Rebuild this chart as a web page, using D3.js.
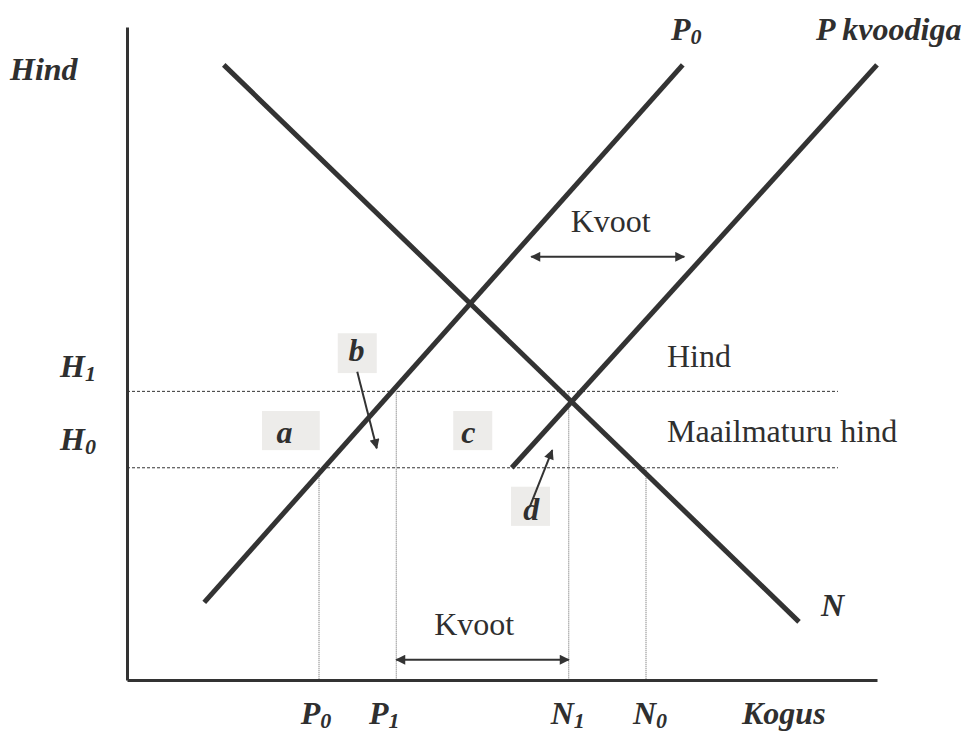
<!DOCTYPE html>
<html>
<head>
<meta charset="utf-8">
<script src="https://cdn.jsdelivr.net/npm/d3@7"></script>
<style>
  html, body { margin: 0; padding: 0; background: #fff; }
  svg { display: block; }
  text { font-family: "Liberation Serif", "Times New Roman", serif; fill: #2f2f2f; }
  .lbl { font-weight: bold; font-style: italic; }
</style>
</head>
<body>
<script>
const w = 965;
const h = 738;
const ink = "#333";
const fs = 32;
const subFs = 22;

// curves in chart units (x: quantity 0-100, y: price 0-100)
const curveNames = ["N", "P0", "Pkvoodiga"];
const curveX = [[12.9, 89.6], [10.3, 74.1], [51.3, 100]];
const curveY = [[94.2, 8.9], [11.9, 94.2], [32.5, 94.2]];

// price levels
const priceNames = ["H1", "H0"];
const priceValues = [44.2, 32.5];
const priceLineEnd = 94.8;

// quantities on the x axis
const qtyNames = ["P0", "P1", "N1", "N0"];
const qtyValues = [25.6, 35.9, 58.9, 69.2];
const qtyTops = [32.5, 44.2, 44.2, 32.5];
const qtyLabelShift = [-3, -12, -1, 4];

// quota arrows
const quotaFrom = [35.9, 53.9];
const quotaTo = [58.9, 74.3];
const quotaLevel = [3.1, 64.8];
const quotaTextX = [46.3, 64.5];

// shaded letter boxes a, b, c, d
const boxLetters = ["a", "b", "c", "d"];
const boxX0 = [18.0, 28.1, 43.5, 51.2];
const boxX1 = [25.7, 33.3, 48.7, 56.4];
const boxY0 = [35.2, 47.0, 35.2, 23.6];
const boxY1 = [41.2, 53.1, 41.2, 29.6];
const letterX = [21.0, 30.6, 45.5, 53.9];
const letterY = [36.3, 48.8, 36.3, 24.5];

// pointer arrows from b and d
const pointerX0 = [30.7, 53.7];
const pointerY0 = [47.2, 26.5];
const pointerX1 = [33.3, 56.7];
const pointerY1 = [35.5, 35.2];

const svg = d3.select("body").append("svg").attr("width", w).attr("height", h);

const x = d3.scaleLinear().domain([0, 100]).range([127, 877]);
const y = d3.scaleLinear().domain([0, 100]).range([680, 27]);

const defs = svg.append("defs");
defs.append("marker")
  .attr("id", "head")
  .attr("viewBox", "0 0 10 10")
  .attr("refX", 9)
  .attr("refY", 5)
  .attr("markerWidth", 12)
  .attr("markerHeight", 10)
  .attr("markerUnits", "userSpaceOnUse")
  .attr("orient", "auto-start-reverse")
  .append("path")
  .attr("d", "M0,0 L10,5 L0,10 z")
  .attr("fill", ink);

// boxes
svg.append("g").selectAll("rect")
  .data(boxLetters)
  .join("rect")
  .attr("x", (d, i) => x(boxX0[i]))
  .attr("y", (d, i) => y(boxY1[i]))
  .attr("width", (d, i) => x(boxX1[i]) - x(boxX0[i]))
  .attr("height", (d, i) => y(boxY0[i]) - y(boxY1[i]))
  .attr("fill", "#edecea");

// horizontal price lines
svg.append("g").selectAll("line")
  .data(priceValues)
  .join("line")
  .attr("x1", x(0))
  .attr("x2", x(priceLineEnd))
  .attr("y1", (d) => y(d))
  .attr("y2", (d) => y(d))
  .attr("stroke", ink)
  .attr("stroke-width", 1)
  .attr("stroke-dasharray", "3,2");

// vertical quantity lines
svg.append("g").selectAll("line")
  .data(qtyValues)
  .join("line")
  .attr("x1", (d) => x(d))
  .attr("x2", (d) => x(d))
  .attr("y1", (d, i) => y(qtyTops[i]))
  .attr("y2", y(0))
  .attr("stroke", "#666")
  .attr("stroke-width", 1)
  .attr("stroke-dasharray", "1,1");

// axes
svg.append("g")
  .attr("transform", `translate(0, ${y(0)})`)
  .call(d3.axisBottom(x).ticks(0).tickSize(0).tickSizeOuter(0))
  .call((g) => g.select(".domain").attr("stroke", ink).attr("stroke-width", 3));
svg.append("g")
  .attr("transform", `translate(${x(0)}, 0)`)
  .call(d3.axisLeft(y).ticks(0).tickSize(0).tickSizeOuter(0))
  .call((g) => g.select(".domain").attr("stroke", ink).attr("stroke-width", 3));

// curves
svg.append("g").selectAll("line")
  .data(curveNames)
  .join("line")
  .attr("x1", (d, i) => x(curveX[i][0]))
  .attr("y1", (d, i) => y(curveY[i][0]))
  .attr("x2", (d, i) => x(curveX[i][1]))
  .attr("y2", (d, i) => y(curveY[i][1]))
  .attr("stroke", ink)
  .attr("stroke-width", 5);

// quota arrows
svg.append("g").selectAll("line")
  .data(quotaLevel)
  .join("line")
  .attr("x1", (d, i) => x(quotaFrom[i]))
  .attr("x2", (d, i) => x(quotaTo[i]))
  .attr("y1", (d) => y(d))
  .attr("y2", (d) => y(d))
  .attr("stroke", ink)
  .attr("stroke-width", 2)
  .attr("marker-start", "url(#head)")
  .attr("marker-end", "url(#head)");

// pointer arrows
svg.append("g").selectAll("line")
  .data(pointerX0)
  .join("line")
  .attr("x1", (d) => x(d))
  .attr("y1", (d, i) => y(pointerY0[i]))
  .attr("x2", (d, i) => x(pointerX1[i]))
  .attr("y2", (d, i) => y(pointerY1[i]))
  .attr("stroke", ink)
  .attr("stroke-width", 2)
  .attr("marker-end", "url(#head)");

// letters in boxes
svg.append("g").selectAll("text")
  .data(boxLetters)
  .join("text")
  .attr("class", "lbl")
  .attr("x", (d, i) => x(letterX[i]))
  .attr("y", (d, i) => y(letterY[i]))
  .attr("text-anchor", "middle")
  .attr("font-size", fs)
  .text((d) => d);

// label with subscript
function subLabel(g, px, py, main, sub, anchor) {
  const t = g.append("text")
    .attr("class", "lbl")
    .attr("x", px)
    .attr("y", py)
    .attr("font-size", fs)
    .attr("text-anchor", anchor || "start");
  t.append("tspan").text(main);
  if (sub) t.append("tspan").attr("font-size", subFs).attr("dy", 4).text(sub);
  return t;
}

const labels = svg.append("g");
labels.append("text").attr("class", "lbl").attr("x", 10).attr("y", 80)
  .attr("font-size", fs).text("Hind");
subLabel(labels, 96, y(priceValues[0]) - 14, "H", "1", "end");
subLabel(labels, 96, y(priceValues[1]) - 18, "H", "0", "end");

qtyNames.forEach((n, i) => {
  subLabel(labels, x(qtyValues[i]) + qtyLabelShift[i], 724, n[0], n[1], "middle");
});
labels.append("text").attr("class", "lbl").attr("x", 742).attr("y", 724)
  .attr("font-size", fs).text("Kogus");

subLabel(labels, 671, 40, "P", "0");
labels.append("text").attr("class", "lbl").attr("x", 816).attr("y", 40)
  .attr("font-size", fs).text("P kvoodiga");
labels.append("text").attr("class", "lbl").attr("x", 821).attr("y", 616)
  .attr("font-size", fs).text("N");

// plain text notes
labels.append("text").attr("x", x(quotaTextX[1])).attr("y", 232)
  .attr("text-anchor", "middle").attr("font-size", fs).text("Kvoot");
labels.append("text").attr("x", x(quotaTextX[0])).attr("y", 635)
  .attr("text-anchor", "middle").attr("font-size", fs).text("Kvoot");
labels.append("text").attr("x", 667).attr("y", 367).attr("font-size", fs).text("Hind");
labels.append("text").attr("x", 667).attr("y", 442).attr("font-size", fs).text("Maailmaturu hind");
</script>
</body>
</html>
